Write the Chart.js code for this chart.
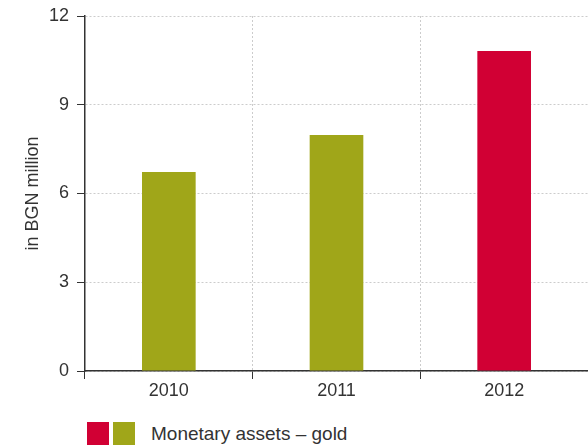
<!DOCTYPE html>
<html>
<head>
<meta charset="utf-8">
<script src="https://cdn.jsdelivr.net/npm/chart.js@4"></script>
<style>
  body { margin: 0; background: #fff; font-family: "Liberation Sans", Arial, sans-serif; }
  #wrap { position: relative; width: 588px; height: 447px; }
  #chart { position: absolute; left: 0; top: 0; }
  #legend { position: absolute; left: 87px; top: 422px; display: flex; align-items: center; color: #333; font-size: 19px; }
  #legend span.box { display: inline-block; width: 22px; height: 23px; margin-right: 4px; }
  #legend span.label { margin-left: 12px; }
</style>
</head>
<body>
<div id="wrap">
  <canvas id="chart" width="588" height="400"></canvas>
  <div id="legend">
    <span class="box" style="background:#D10034"></span>
    <span class="box" style="background:#A0A619"></span>
    <span class="label">Monetary assets – gold</span>
  </div>
</div>
<script>
// Datos
const years = ['2010', '2011', '2012'];
const goldValues = [6.73, 7.98, 10.82];
const barColors = ['#A0A619', '#A0A619', '#D10034'];
const yTicks = [0, 3, 6, 9, 12];

const ctx = document.getElementById('chart').getContext('2d');
new Chart(ctx, {
    type: 'bar',
    data: {
        labels: years,
        datasets: [{
            label: 'Monetary assets – gold',
            data: goldValues,
            backgroundColor: barColors,
            barPercentage: 0.32,
            categoryPercentage: 1
        }]
    },
    options: {
        responsive: false,
        animation: false,
        layout: { padding: { top: 16, right: 0 } },
        plugins: { legend: { display: false }, tooltip: { enabled: false } },
        scales: {
            x: {
                grid: {
                    offset: true,
                    color: '#cccccc',
                    tickColor: '#333',
                    tickLength: 8,
                    tickBorderDash: []
                },
                border: { color: '#333', width: 1.5, dash: [2, 2] },
                ticks: { color: '#333', font: { family: 'Liberation Sans', size: 18 }, padding: 1 },
                afterFit: (scale) => { scale.height = 29; }
            },
            y: {
                min: 0,
                max: 12,
                afterBuildTicks: (scale) => { scale.ticks = yTicks.map(v => ({ value: v })); },
                grid: {
                    color: '#cccccc',
                    tickColor: '#333',
                    tickLength: 8,
                    tickBorderDash: []
                },
                border: { color: '#333', width: 1.5, dash: [2, 2] },
                ticks: { color: '#333', font: { family: 'Liberation Sans', size: 18, lineHeight: 0.8 }, padding: 8 },
                title: {
                    display: true,
                    text: 'in BGN million',
                    color: '#333',
                    font: { family: 'Liberation Sans', size: 18 },
                    padding: { top: 22, bottom: 0 }
                },
                afterFit: (scale) => { scale.width = 85; }
            }
        }
    }
});
</script>
</body>
</html>
